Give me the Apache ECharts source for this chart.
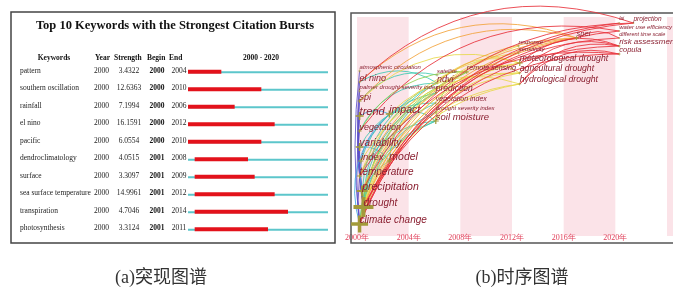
<!DOCTYPE html>
<html>
<head>
<meta charset="utf-8">
<script src="https://cdn.jsdelivr.net/npm/echarts@6/dist/echarts.min.js"></script>
<style>
  html, body { margin: 0; padding: 0; background: #fff; }
  #main { width: 673px; height: 287px; }
</style>
</head>
<body>
<div id="main"></div>
<script>
// ---- (a) burst table ----
const burstKeywords = ['pattern', 'southern oscillation', 'rainfall', 'el nino', 'pacific',
  'dendroclimatology', 'surface', 'sea surface temperature', 'transpiration', 'photosynthesis'];
const burstYear = [2000, 2000, 2000, 2000, 2000, 2000, 2000, 2000, 2000, 2000];
const burstStrength = ['3.4322', '12.6363', '7.1994', '16.1591', '6.0554',
  '4.0515', '3.3097', '14.9961', '4.7046', '3.3124'];
const burstBegin = [2000, 2000, 2000, 2000, 2000, 2001, 2001, 2001, 2001, 2001];
const burstEnd = [2004, 2010, 2006, 2012, 2010, 2008, 2009, 2012, 2014, 2011];
const spanStart = 2000;
const spanEnd = 2020;

// ---- (b) time zone map ----
const zoneStarts = [2000, 2008, 2016, 2024];
const yearTicks = [2000, 2004, 2008, 2012, 2016, 2020];
const nodeNames = ['atmospheric circulation', 'el nino', 'palmer drought severity index', 'spi',
  'trend', 'vegetation', 'variability', 'index', 'temperature', 'precipitation', 'drought',
  'climate change', 'impact', 'model', 'satellite', 'ndvi', 'prediction', 'vegetation index',
  'drought severity index', 'soil moisture', 'remote sensing', 'response', 'sensitivity',
  'meteorological drought', 'agricultural drought', 'hydrological drought', 'spei', 'lai',
  'projection', 'water use efficiency', 'different time scale', 'risk assessment', 'copula'];
const nodeYear = [2000.2, 2000.2, 2000.2, 2000.2, 2000.2, 2000.2, 2000.2, 2000.3, 2000.2, 2000.4,
  2000.5, 2000.2, 2002.5, 2002.5, 2006.2, 2006.2, 2006.1, 2006.1, 2006.1, 2006.1, 2008.5,
  2012.5, 2012.5, 2012.6, 2012.6, 2012.6, 2017, 2020.3, 2021.4, 2020.3, 2020.3, 2020.3, 2020.3];
const nodeLevel = [54, 65, 74, 84, 99, 114, 130, 144, 159, 174, 190, 207, 97, 144, 58, 66, 76,
  86, 95, 104, 55, 29, 36, 46, 56, 67, 21, 6, 6, 14, 21, 29, 37];
const nodeFont = [6, 9, 6, 9, 11, 9, 10, 9.5, 10, 10.5, 10, 10, 10.5, 10.5, 5.8, 9,
  8.5, 7, 6, 9.5, 7.2, 6, 6, 8.7, 8.7, 8.7, 7.5, 5, 6.5, 6, 5.5, 8, 7.5];
const nodeSize = [3, 3, 3, 4, 8, 4, 8, 5, 5, 11, 20, 17, 7, 5, 3, 3, 3, 3, 3, 6, 4, 3, 3, 6, 3,
  3, 4, 2, 2, 2, 2, 3, 3];
const linkPairs = [
  ['drought', 'el nino'], ['drought', 'spi'], ['climate change', 'vegetation'],
  ['precipitation', 'trend'], ['climate change', 'temperature'], ['drought', 'variability'],
  ['drought', 'index'], ['precipitation', 'variability'], ['climate change', 'atmospheric circulation'],
  ['drought', 'palmer drought severity index'], ['temperature', 'trend'],
  ['climate change', 'impact'], ['drought', 'model'], ['precipitation', 'impact'],
  ['variability', 'model'], ['trend', 'impact'],
  ['drought', 'ndvi'], ['precipitation', 'ndvi'], ['climate change', 'soil moisture'],
  ['drought', 'soil moisture'], ['vegetation', 'ndvi'], ['drought', 'prediction'],
  ['index', 'prediction'], ['drought', 'vegetation index'], ['climate change', 'drought severity index'],
  ['temperature', 'soil moisture'], ['spi', 'satellite'], ['impact', 'soil moisture'],
  ['model', 'prediction'], ['variability', 'vegetation index'], ['el nino', 'ndvi'],
  ['ndvi', 'remote sensing'], ['drought', 'remote sensing'], ['soil moisture', 'remote sensing'],
  ['climate change', 'remote sensing'], ['vegetation', 'remote sensing'],
  ['drought', 'meteorological drought'], ['drought', 'agricultural drought'],
  ['drought', 'hydrological drought'], ['climate change', 'hydrological drought'],
  ['precipitation', 'meteorological drought'], ['spi', 'meteorological drought'],
  ['soil moisture', 'agricultural drought'], ['remote sensing', 'agricultural drought'],
  ['climate change', 'response'], ['temperature', 'sensitivity'], ['impact', 'hydrological drought'],
  ['index', 'agricultural drought'], ['ndvi', 'meteorological drought'],
  ['drought', 'spei'], ['climate change', 'spei'], ['spi', 'spei'], ['precipitation', 'spei'],
  ['temperature', 'spei'], ['el nino', 'spei'],
  ['climate change', 'projection'], ['climate change', 'lai'], ['drought', 'risk assessment'],
  ['drought', 'copula'], ['meteorological drought', 'risk assessment'],
  ['hydrological drought', 'copula'], ['drought', 'different time scale'],
  ['climate change', 'water use efficiency'], ['spei', 'different time scale'],
  ['agricultural drought', 'risk assessment'], ['el nino', 'projection'],
  ['precipitation', 'projection'], ['vegetation', 'water use efficiency'],
  ['hydrological drought', 'risk assessment'], ['temperature', 'copula']
];
// link colour follows the year the target first appears
const linkColorYears = [2001, 2004, 2007, 2010, 2015, 2019, 2030];
const linkColors = ['#5a4fc8', '#3fa7e0', '#41c9b0', '#8fd14f', '#e8d84a', '#f2a23a', '#e8303a'];

function linkColor(year) {
  for (let i = 0; i < linkColorYears.length; i++) {
    if (year < linkColorYears[i]) return linkColors[i];
  }
  return linkColors[linkColors.length - 1];
}

const serif = '"Liberation Serif", "Times New Roman", serif';
const sans = '"Liberation Sans", Arial, sans-serif';
const cross = 'path://M4,0h2v4h4v2h-4v4h-2v-4h-4v-2h4z';
const rowFont = 7.5;

const chart = echarts.init(document.getElementById('main'));

const nodes = nodeNames.map((name, i) => ({
  name: name,
  value: [nodeYear[i], nodeLevel[i]],
  symbolSize: nodeSize[i],
  label: { fontSize: nodeFont[i] }
}));

const links = linkPairs.map(([s, t]) => {
  const ty = nodeYear[nodeNames.indexOf(t)];
  const sy = nodeYear[nodeNames.indexOf(s)];
  return {
    source: s,
    target: t,
    // links inside one time column only bow out a little
    lineStyle: { color: linkColor(ty), curveness: ty - sy < 1 ? 0.06 : 0.3 }
  };
});

function cell(width, align, bold) {
  return { width: width, align: align, fontFamily: serif, fontSize: rowFont,
    fontWeight: bold ? 'bold' : 'normal', color: bold ? '#111' : '#222' };
}

function header(x, text, center) {
  return { type: 'text', x: x, y: 58, style: { text: text, font: 'bold 7.5px ' + serif,
    fill: '#111', align: center ? 'center' : 'left', verticalAlign: 'middle' } };
}

const option = {
  animation: false,
  backgroundColor: '#fff',
  grid: [
    { left: 188, top: 62, width: 140, height: 175 },
    { left: 357, top: 17, width: 310, height: 219 }
  ],
  xAxis: [
    { gridIndex: 0, type: 'value', min: spanStart, max: spanEnd + 1, show: false },
    {
      gridIndex: 1, type: 'value', min: 2000, max: 2024, interval: 4,
      axisLine: { show: false }, axisTick: { show: false }, splitLine: { show: false },
      axisLabel: {
        margin: -2, fontSize: 8, fontFamily: serif, color: '#e0405a',
        formatter: v => (yearTicks.indexOf(v) >= 0 ? v + '年' : '')
      }
    }
  ],
  yAxis: [
    {
      gridIndex: 0, type: 'category', inverse: true, data: burstKeywords,
      axisLine: { show: false }, axisTick: { show: false },
      axisLabel: {
        align: 'left', margin: 168, color: '#222', fontFamily: serif, fontSize: rowFont,
        formatter: (v, i) => '{k|' + v + '}{y|' + burstYear[i] + '}{s|' + burstStrength[i] +
          '}{b|' + burstBegin[i] + '}{e|' + burstEnd[i] + '}',
        rich: {
          k: cell(74, 'left'),
          y: cell(20, 'left'),
          s: cell(30, 'right'),
          b: cell(26, 'center', true),
          e: cell(18, 'left')
        }
      }
    },
    { gridIndex: 1, type: 'value', min: 0, max: 219, inverse: true, show: false }
  ],
  graphic: [
    { type: 'rect', z: 1, shape: { x: 11, y: 12, width: 324, height: 231 },
      style: { fill: 'none', stroke: '#444', lineWidth: 1.5 } },
    { type: 'rect', z: 1, shape: { x: 351, y: 13, width: 400, height: 230 },
      style: { fill: 'none', stroke: '#555', lineWidth: 1.5 } },
    { type: 'text', x: 175, y: 26, style: { text: 'Top 10 Keywords with the Strongest Citation Bursts',
      font: 'bold 12.5px ' + serif, fill: '#111', align: 'center', verticalAlign: 'middle' } },
    header(54, 'Keywords', true),
    header(95, 'Year'),
    header(114, 'Strength'),
    header(147, 'Begin'),
    header(169, 'End'),
    header(261, spanStart + ' - ' + spanEnd, true),
    { type: 'text', x: 161, y: 278, style: { text: '(a)突现图谱', font: '18px ' + serif + ', "Noto Sans CJK SC"', fill: '#333', align: 'center', verticalAlign: 'middle' } },
    { type: 'text', x: 522, y: 278, style: { text: '(b)时序图谱', font: '18px ' + serif + ', "Noto Sans CJK SC"', fill: '#333', align: 'center', verticalAlign: 'middle' } }
  ],
  series: [
    {
      type: 'custom',
      xAxisIndex: 0, yAxisIndex: 0,
      data: burstKeywords.map((k, i) => [i, burstBegin[i], burstEnd[i]]),
      renderItem: (params, api) => {
        const row = api.value(0);
        const a = api.coord([spanStart, row]);
        const b = api.coord([spanEnd + 1, row]);
        const r0 = api.coord([api.value(1), row]);
        const r1 = api.coord([api.value(2) + 1, row]);
        return {
          type: 'group',
          children: [
            { type: 'rect', shape: { x: a[0], y: a[1] + 0.5, width: b[0] - a[0], height: 2 },
              style: { fill: '#5cc6cb' } },
            { type: 'rect', shape: { x: r0[0], y: r0[1] - 1, width: r1[0] - r0[0], height: 4 },
              style: { fill: '#e3121b' } }
          ]
        };
      }
    },
    {
      type: 'custom',
      xAxisIndex: 1, yAxisIndex: 1,
      silent: true, z: 0, clip: false,
      data: zoneStarts,
      renderItem: (params, api) => {
        const p0 = api.coord([api.value(0), 0]);
        const p1 = api.coord([api.value(0) + 4, 219]);
        return { type: 'rect', shape: { x: p0[0], y: p0[1], width: p1[0] - p0[0], height: p1[1] - p0[1] },
          style: { fill: '#fbe3e8' } };
      }
    },
    {
      type: 'graph',
      coordinateSystem: 'cartesian2d',
      xAxisIndex: 1, yAxisIndex: 1,
      z: 3,
      symbol: cross,
      itemStyle: { color: '#a39a3a' },
      lineStyle: { width: 1, opacity: 0.85, curveness: 0.3 },
      label: {
        show: true, position: 'inside', align: 'left', verticalAlign: 'middle',
        offset: [0, -4], color: '#8a1f30', fontStyle: 'italic', fontFamily: sans
      },
      data: nodes,
      links: links
    }
  ]
};

chart.setOption(option);
</script>
</body>
</html>
